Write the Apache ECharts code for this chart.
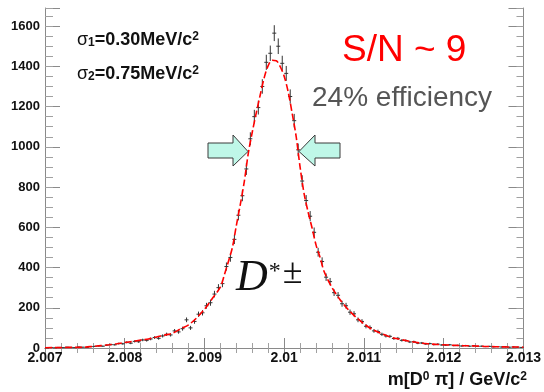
<!DOCTYPE html>
<html>
<head>
<meta charset="utf-8">
<script src="https://cdn.jsdelivr.net/npm/echarts@6/dist/echarts.min.js"></script>
<style>
  html, body { margin: 0; padding: 0; background: #fff; }
  #main { width: 544px; height: 392px; }
</style>
</head>
<body>
<div id="main"></div>
<script>
// histogram: 120 bins of 0.05 MeV starting at 2.007 GeV
var binLo = 2.007;
var binWidth = 0.00005;
var counts = [
  0, 2, 1, 3, 2, 4, 3, 2, 5, 4,
  3, 7, 8, 10, 9, 14, 17, 16, 22, 21,
  28, 24, 33, 31, 40, 38, 45, 52, 48, 60,
  68, 65, 85, 80, 96, 140, 100, 132, 168, 175,
  210, 225, 268, 300, 320, 405, 450, 540, 660, 757,
  890, 1040, 1150, 1195, 1300, 1420, 1465, 1565, 1500, 1415,
  1365, 1250, 1130, 985, 830, 733, 655, 575, 476, 430,
  352, 330, 275, 262, 220, 210, 178, 170, 140, 132,
  108, 102, 85, 82, 68, 60, 58, 47, 48, 38,
  37, 30, 31, 24, 25, 20, 22, 17, 19, 15,
  14, 16, 12, 13, 10, 12, 9, 11, 8, 9,
  7, 8, 6, 7, 5, 6, 4, 5, 4, 3
];

// fitted curve (red dashed)
var fitX = [
  2.0070, 2.0071, 2.0072, 2.0073, 2.0074, 2.0075, 2.0076, 2.0077, 2.0078, 2.0079,
  2.0080, 2.0081, 2.0082, 2.0083, 2.0084, 2.0085, 2.0086, 2.0087, 2.0088, 2.0089,
  2.0090, 2.0091, 2.0092, 2.00925, 2.0093, 2.00935, 2.0094, 2.00945, 2.0095, 2.00955,
  2.0096, 2.00965, 2.0097, 2.00975, 2.0098, 2.00985, 2.0099, 2.00995, 2.0100, 2.01005,
  2.0101, 2.01015, 2.0102, 2.01025, 2.0103, 2.01035, 2.0104, 2.01045, 2.0105, 2.0106,
  2.0107, 2.0108, 2.0109, 2.0110, 2.0111, 2.0112, 2.0113, 2.0114, 2.0115, 2.0116,
  2.0117, 2.0118, 2.0119, 2.0120, 2.0121, 2.0122, 2.0123, 2.0124, 2.0125, 2.0126,
  2.0127, 2.0128, 2.0129, 2.0130
];
var fitY = [
  1, 2, 2, 3, 3, 4, 8, 12, 16, 21,
  27, 33, 39, 45, 55, 64, 74, 95, 115, 149,
  193, 247, 304, 365, 430, 500, 610, 715, 830, 970,
  1075, 1170, 1260, 1345, 1405, 1430, 1428, 1398, 1350, 1272,
  1165, 1050, 895, 765, 675, 595, 510, 450, 380, 300,
  240, 192, 153, 120, 93, 75, 59, 47, 39, 31,
  25, 21, 18, 16, 14, 12, 11, 10, 8, 7,
  6, 5, 5, 4
];

var xMin = 2.007, xMax = 2.013;
var yMax = 1690;

var histData = counts.map(function (c, i) {
  return [binLo + binWidth * (i + 0.5), c];
});
var fitData = fitX.map(function (x, i) { return [x, fitY[i]]; });

var font = 'Liberation Sans, Arial, sans-serif';
var serif = 'Liberation Serif, serif';
var frameColor = '#8a8a8a';
var tickColor = '#8a8a8a';

var chart = echarts.init(document.getElementById('main'));

// sigma labels share the same rich styles
var sigmaRich = {
  s: { fontFamily: font, fontSize: 18 },
  sub: { fontFamily: font, fontWeight: 'bold', fontSize: 12, verticalAlign: 'bottom' },
  m: { fontFamily: font, fontWeight: 'bold', fontSize: 18 },
  sup: { fontFamily: font, fontWeight: 'bold', fontSize: 12, verticalAlign: 'top' }
};

chart.setOption({
  animation: false,
  backgroundColor: '#fff',
  grid: { left: 45, right: 17, top: 8, bottom: 44 },
  xAxis: [
    {
      type: 'value', min: xMin, max: xMax, interval: 0.001,
      position: 'bottom',
      axisLine: { lineStyle: { color: frameColor, width: 1 } },
      axisTick: { inside: true, length: 10, lineStyle: { color: tickColor } },
      minorTick: { show: true, splitNumber: 5, length: 5, lineStyle: { color: '#a0a0a0' } },
      splitLine: { show: false },
      axisLabel: {
        margin: 3, color: '#111', fontFamily: font, fontWeight: 'bold', fontSize: 14,
        formatter: function (v) { return String(+v.toFixed(3)); }
      }
    },
    {
      type: 'value', min: xMin, max: xMax, interval: 0.001,
      position: 'top',
      axisLine: { lineStyle: { color: frameColor, width: 1 } },
      axisTick: { inside: true, length: 10, lineStyle: { color: tickColor } },
      minorTick: { show: true, splitNumber: 5, length: 5, lineStyle: { color: '#a0a0a0' } },
      splitLine: { show: false },
      axisLabel: { show: false }
    }
  ],
  yAxis: [
    {
      type: 'value', min: 0, max: yMax, interval: 200,
      position: 'left',
      axisLine: { show: true, lineStyle: { color: frameColor, width: 1 } },
      axisTick: { show: true, inside: true, length: 15, lineStyle: { color: tickColor } },
      splitLine: { show: false },
      axisLabel: {
        margin: 5, color: '#111', fontFamily: font, fontWeight: 'bold', fontSize: 13,
        formatter: function (v) { return v % 200 === 0 ? String(v) : ''; }
      }
    },
    {
      type: 'value', min: 0, max: yMax, interval: 50,
      position: 'left',
      axisLine: { show: false },
      axisTick: { show: true, inside: true, length: 8, lineStyle: { color: '#a0a0a0' } },
      splitLine: { show: false },
      axisLabel: { show: false }
    },
    {
      type: 'value', min: 0, max: yMax, interval: 200,
      position: 'right',
      axisLine: { show: true, lineStyle: { color: frameColor, width: 1 } },
      axisTick: { show: true, inside: true, length: 15, lineStyle: { color: tickColor } },
      splitLine: { show: false },
      axisLabel: { show: false }
    },
    {
      type: 'value', min: 0, max: yMax, interval: 50,
      position: 'right',
      axisLine: { show: false },
      axisTick: { show: true, inside: true, length: 7, lineStyle: { color: '#a0a0a0' } },
      splitLine: { show: false },
      axisLabel: { show: false }
    }
  ],
  series: [
    {
      // data points with sqrt(N) error bars
      type: 'custom',
      xAxisIndex: 0, yAxisIndex: 0,
      data: histData,
      z: 2,
      renderItem: function (params, api) {
        var x = api.value(0), y = api.value(1);
        var e = Math.sqrt(y);
        var c = api.coord([x, y]);
        var top = api.coord([x, y + e]);
        var bot = api.coord([x, Math.max(y - e, 0)]);
        var hw = api.size([binWidth, 0])[0] / 2;
        var st = { stroke: '#333', lineWidth: 1 };
        return {
          type: 'group',
          children: [
            { type: 'line', shape: { x1: c[0], y1: top[1], x2: c[0], y2: bot[1] }, style: st },
            { type: 'line', shape: { x1: c[0] - hw, y1: c[1], x2: c[0] + hw, y2: c[1] }, style: st }
          ]
        };
      }
    },
    {
      type: 'line',
      xAxisIndex: 0, yAxisIndex: 0,
      data: fitData,
      smooth: 0.3,
      showSymbol: false,
      z: 3,
      lineStyle: { color: '#ff0000', width: 1.6, type: [7, 3] }
    }
  ],
  graphic: [
    {
      type: 'text', left: 77, top: 31,
      style: { text: '{s|σ}{sub|1}{m|=0.30MeV/c}{sup|2}', fill: '#111', rich: sigmaRich }
    },
    {
      type: 'text', left: 77, top: 65,
      style: { text: '{s|σ}{sub|2}{m|=0.75MeV/c}{sup|2}', fill: '#111', rich: sigmaRich }
    },
    {
      type: 'text', left: 342, top: 32,
      style: { text: 'S/N ~ 9', fill: '#ff0000', fontFamily: font, fontSize: 37 }
    },
    {
      type: 'text', left: 312, top: 84,
      style: { text: '24% efficiency', fill: '#555', fontFamily: font, fontSize: 28 }
    },
    {
      type: 'text', left: 236, top: 256,
      style: {
        text: '{d|D}{a|*}{p|±}',
        fill: '#111',
        rich: {
          d: { fontFamily: serif, fontStyle: 'italic', fontSize: 44 },
          a: { fontFamily: serif, fontSize: 24, verticalAlign: 'top', padding: [4, 2, 0, 1] },
          p: { fontFamily: serif, fontSize: 36, verticalAlign: 'top' }
        }
      }
    },
    {
      type: 'text', right: 17, top: 371,
      style: {
        text: '{m|m[D}{sup|0}{m| π] / GeV/c}{sup|2}',
        fill: '#111',
        rich: {
          m: { fontFamily: font, fontWeight: 'bold', fontSize: 18 },
          sup: { fontFamily: font, fontWeight: 'bold', fontSize: 12, verticalAlign: 'top' }
        }
      }
    },
    {
      // left arrow
      type: 'polygon',
      shape: { points: [[208, 143], [233, 143], [233, 135], [248, 151.5], [233, 166], [233, 158], [208, 158]] },
      style: { fill: '#bff7e8', stroke: '#3a3a3a', lineWidth: 1 },
      z: 10
    },
    {
      // right arrow
      type: 'polygon',
      shape: { points: [[340, 143], [315, 143], [315, 135], [299, 151.5], [315, 166], [315, 158], [340, 158]] },
      style: { fill: '#bff7e8', stroke: '#3a3a3a', lineWidth: 1 },
      z: 10
    }
  ]
});

window.onresize = function () {
  chart.resize();
};
</script>
</body>
</html>
